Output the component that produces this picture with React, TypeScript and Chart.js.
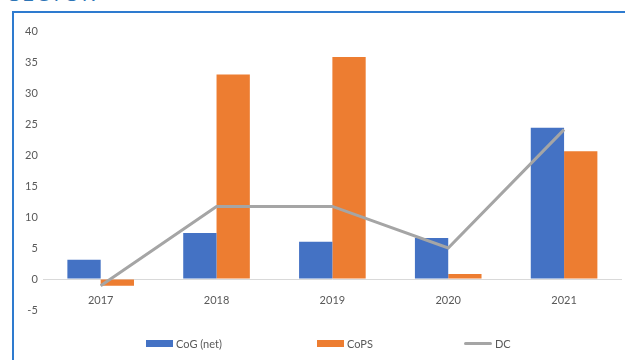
import React, { useEffect, useRef } from "react";
import { Chart, registerables } from "chart.js";

Chart.register(...registerables);

const categories = ["2017", "2018", "2019", "2020", "2021"];
const seriesNames = ["CoG (net)", "CoPS", "DC"];
const cogNet = [3.1, 7.4, 6.0, 6.6, 24.4];
const cops = [-1.1, 33.0, 35.8, 0.8, 20.6];
const dc = [-1.1, 11.7, 11.7, 5.0, 24.1];

const FONT = "Lato, 'Noto Sans', sans-serif";
const COLORS = ["#4472C4", "#ED7D31", "#A5A5A5"];

export default function App() {
  const ref = useRef<HTMLCanvasElement | null>(null);

  useEffect(() => {
    if (!ref.current) return;
    const chart = new Chart(ref.current, {
      type: "bar",
      data: {
        labels: categories,
        datasets: [
          {
            type: "bar",
            label: seriesNames[0],
            data: cogNet,
            backgroundColor: COLORS[0],
            borderWidth: 0,
            order: 2,
          },
          {
            type: "bar",
            label: seriesNames[1],
            data: cops,
            backgroundColor: COLORS[1],
            borderWidth: 0,
            order: 3,
          },
          {
            type: "line",
            label: seriesNames[2],
            data: dc,
            borderColor: COLORS[2],
            backgroundColor: COLORS[2],
            borderWidth: 3,
            pointRadius: 0,
            tension: 0,
            order: 1,
          },
        ] as any,
      },
      options: {
        animation: false,
        responsive: true,
        maintainAspectRatio: false,
        layout: { padding: { left: 10, right: 3, top: 18, bottom: 50 } },
        datasets: {
          bar: { barPercentage: 1, categoryPercentage: 0.575 },
        } as any,
        scales: {
          x: {
            grid: { display: false },
            border: { display: false },
            ticks: { color: "#595959", font: { family: FONT, size: 11 }, padding: -24 },
          },
          y: {
            min: -5,
            max: 40,
            ticks: { stepSize: 5, color: "#595959", font: { family: FONT, size: 11 }, padding: 5 },
            grid: {
              drawTicks: false,
              color: (ctx: any) => (ctx.tick && ctx.tick.value === 0 ? "#D9D9D9" : "rgba(0,0,0,0)"),
            },
            border: { display: false },
          },
        },
        plugins: {
          tooltip: { enabled: false },
          legend: { display: false },
        },
      },
    });
    return () => chart.destroy();
  }, []);

  const legendX = [146, 317, 464];

  return (
    <div
      style={{
        position: "fixed",
        left: 0,
        top: 0,
        width: 625,
        height: 360,
        overflow: "hidden",
        background: "#fff",
      }}
    >
      <div
        style={{
          position: "absolute",
          left: 9,
          top: -20,
          fontFamily: "'Open Sans', sans-serif",
          fontSize: 22,
          color: "#2E75B6",
          lineHeight: "24px",
          letterSpacing: 1,
        }}
      >
        SECTOR
      </div>
      <div
        style={{
          position: "absolute",
          left: 12,
          top: 11,
          width: 700,
          height: 400,
          borderLeft: "2px solid #2E7BCF",
          borderTop: "2px solid #2E7BCF",
        }}
      />
      <div style={{ position: "absolute", left: 10, top: 13, width: 615, height: 347 }}>
        <canvas ref={ref} />
      </div>
      {seriesNames.map((name, i) => (
        <div
          key={name}
          style={{
            position: "absolute",
            left: legendX[i],
            top: 335,
            height: 16,
            display: "flex",
            alignItems: "center",
            fontFamily: FONT,
            fontSize: 11,
            color: "#595959",
            whiteSpace: "nowrap",
          }}
        >
          <span
            style={{
              display: "inline-block",
              width: i === 2 ? 28 : 27,
              height: i === 2 ? 3 : 7,
              borderRadius: i === 2 ? 2 : 0,
              background: COLORS[i],
              marginRight: 3,
            }}
          />
          {name}
        </div>
      ))}
    </div>
  );
}
